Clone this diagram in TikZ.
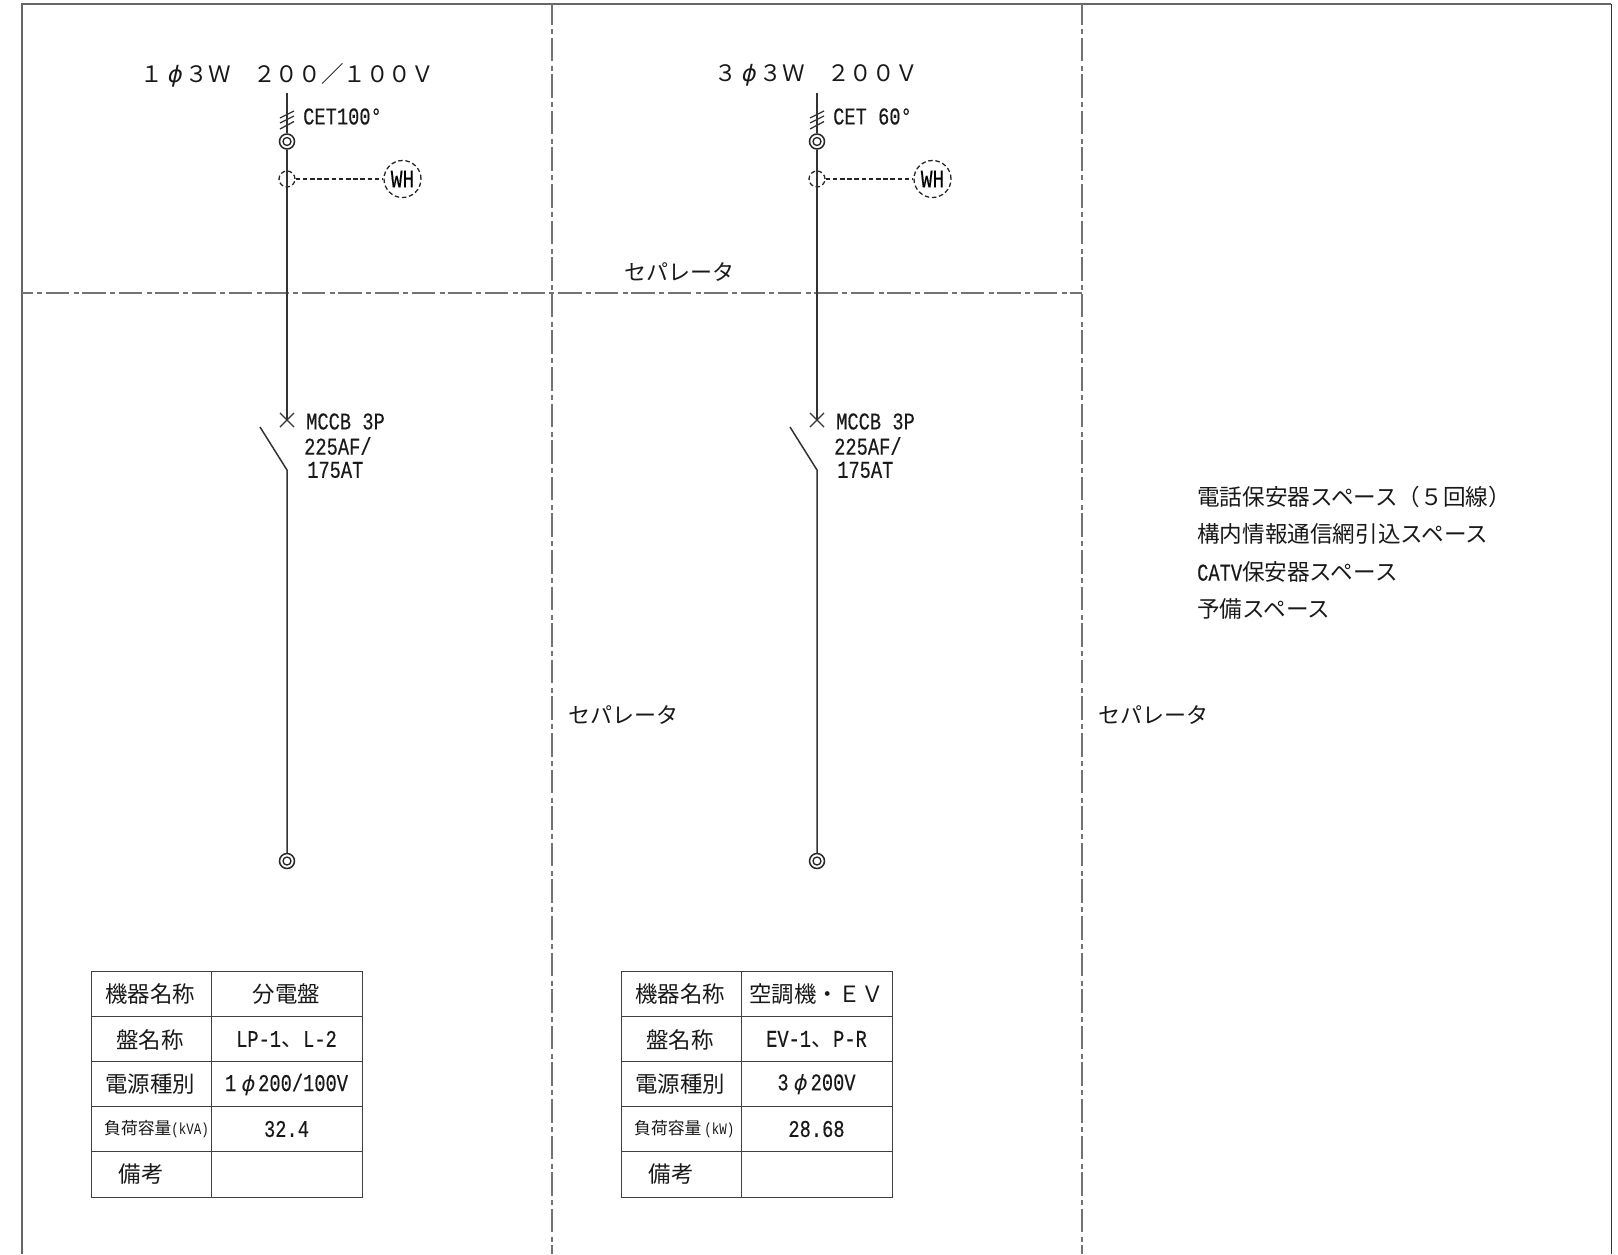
\documentclass[tikz,border=0pt]{standalone}
\usepackage{fontspec}
\setmainfont{Noto Sans CJK JP}
\newfontfamily\nar[FakeStretch=0.78,FakeBold=0.3]{Liberation Mono}
\newfontfamily\narr[FakeStretch=0.78]{Liberation Mono}
\newfontfamily\phf[FakeSlant=0.22]{DejaVu Sans}
\newcommand{\ph}{\makebox[1em][c]{\phf ϕ}}
\newcommand{\tph}{\makebox[22pt][c]{\fontsize{21}{21}\selectfont\phf ϕ}}
\newcommand{\tcm}{\makebox[22pt][c]{\fontsize{22}{22}\selectfont\rmfamily 、}}
\tikzset{
 ln/.style={line width=1.5pt,draw=black!80},
 sep/.style={line width=1.3pt,draw=black!55,dash pattern=on 23.5pt off 4.5pt on 5pt off 3.6pt},
 sepv/.style={sep,dash phase=3pt},
 seph/.style={sep,dash phase=13pt},
 dsh/.style={line width=1.3pt,draw=black!85,dash pattern=on 4.5pt off 2.7pt},
 txt/.style={inner sep=0pt,anchor=west,font=\fontsize{22}{22}\selectfont,text=black!90},
 rtx/.style={txt,font=\fontsize{22.6}{22.6}\selectfont},
 nr/.style={inner sep=0pt,anchor=west,font=\fontsize{24}{24}\selectfont\nar,text=black!90},
 tc/.style={inner sep=0pt,anchor=center,font=\fontsize{22.4}{22.4}\selectfont,text=black!90},
 tn/.style={inner sep=0pt,anchor=center,font=\fontsize{24}{24}\selectfont\nar,text=black!90},
 ringo/.style={circle,draw=black!85,line width=1.5pt,minimum size=15pt,inner sep=0pt,fill=white},
 ringi/.style={circle,draw=black!85,line width=1.3pt,minimum size=8pt,inner sep=0pt,fill=white},
 dcirc/.style={circle,dsh,minimum size=16pt,inner sep=0pt,fill=white},
 wh/.style={circle,dsh,minimum size=37pt,inner sep=0pt,fill=white,font=\fontsize{25}{25}\selectfont\nar},
 ttlst/.style={inner sep=0pt,anchor=west,font=\fontsize{22.6}{22.6}\selectfont,text=black!90},
 tbl/.style={line width=1pt,draw=black!75},
}
\begin{document}
\begin{tikzpicture}[x=1pt,y=-1pt]
\useasboundingbox (0,0) rectangle (1618,1254);
% frame
\coordinate (tl) at (22,1254); \coordinate (tl2) at (22,4); \coordinate (tr) at (1611,4); \coordinate (tr2) at (1611,1254);
\draw[line width=1.5pt,draw=black!60] (tl)--(tl2)--(tr);
\draw[line width=1pt,draw=black!80] (tr)--(tr2);
% separators
\coordinate (v1a) at (552,4); \coordinate (v1b) at (552,1254);
\coordinate (v2a) at (1082,4); \coordinate (v2b) at (1082,1254);
\coordinate (ha) at (22,293); \coordinate (hb) at (1082,293);
\draw[sepv] (v1a)--(v1b);
\draw[sepv] (v2a)--(v2b);
\draw[seph] (ha)--(hb);
\node[txt] (s1) at (624,272) {セパレータ};
\node[txt] (s2) at (568,715) {セパレータ};
\node[txt] (s3) at (1098,715) {セパレータ};
% circuits
\foreach \cx/\nm/\cet/\ttl/\tx in {287/a/CET100°/{１\ph ３Ｗ　２００／１００Ｖ}/140, 817/b/{CET 60°}/{３\ph ３Ｗ　２００Ｖ}/714}{
 \node[ttlst] (ttl\nm) at (\tx,75) {\ttl};
 \coordinate (top\nm) at (\cx,93);
 \node[ringo] (r1\nm) at (\cx,141.5) {};
 \node[ringi] (r1i\nm) at (r1\nm) {};
 \node[dcirc] (d\nm) at (\cx,179) {};
 \node[wh] (wh\nm) at (\cx+115.5,179) {WH};
 \coordinate (xc\nm) at (\cx,420);
 \coordinate (sw\nm) at (\cx,470);
 \coordinate (swt\nm) at (\cx-27,427);
 \node[ringo] (r2\nm) at (\cx,861) {};
 \node[ringi] (r2i\nm) at (r2\nm) {};
 \draw[ln] (top\nm)--(r1\nm.north);
 \draw[ln] (r1\nm.south)--(d\nm.north);
 \draw[ln] (d\nm.north)--(d\nm.south);
 \draw[ln] (d\nm.south)--(xc\nm);
 \draw[ln] (swt\nm)--(sw\nm)--(r2\nm.north);
 \draw[dsh] (d\nm.east)--(wh\nm.west);
 \draw[ln,line width=1.3pt] (\cx-7,413)--(\cx+7,427) (\cx-7,427)--(\cx+7,413);
 \draw[ln,line width=1.3pt] (\cx-7,118)--(\cx+7,111) (\cx-7,123)--(\cx+7,116) (\cx-7,129)--(\cx+7,121.5);
 \node[nr] (cet\nm) at (\cx+16,116.5) {\cet};
 \node[nr] (m1\nm) at (\cx+19,421.5) {MCCB 3P};
 \node[nr] (m2\nm) at (\cx+17,446) {225AF/};
 \node[nr] (m3\nm) at (\cx+20,470) {175AT};
}
% right text
\node[rtx] (t1) at (1197,497) {電話保安器スペース（５回線）};
\node[rtx] (t2) at (1197,534) {構内情報通信網引込スペース};
\node[rtx] (t3) at (1197,572) {{\fontsize{24}{24}\selectfont\nar CATV}保安器スペース};
\node[rtx] (t4) at (1197,609) {予備スペース};
% tables
\foreach \ox/\nm/\aa/\bb/\cc/\dd/\ee in {
 91.5/p/分電盤/{LP-1\tcm L-2}/{1\tph 200/100V}/{(kVA)}/{32.4},
 621.5/q/空調機・ＥＶ/{EV-1\tcm P-R}/{3\tph 200V}/{\hspace{3pt}(kW)}/{28.68}}{
 \coordinate (tb\nm) at (\ox,971.5);
 \coordinate (te\nm) at (\ox+271,1197);
 \draw[tbl] (tb\nm) rectangle (te\nm);
 \draw[tbl] (\ox,1016)--(\ox+271,1016) (\ox,1061.3)--(\ox+271,1061.3) (\ox,1106.6)--(\ox+271,1106.6) (\ox,1151.8)--(\ox+271,1151.8) (\ox+119.5,971.5)--(\ox+119.5,1197);
 \node[tc] (c1\nm) at (\ox+58.5,994) {機器名称};
 \node[tc] (c2\nm) at (\ox+58.5,1039.5) {盤名称};
 \node[tc] (c3\nm) at (\ox+58.5,1084.5) {電源種別};
 \node[inner sep=0pt,anchor=west,font=\fontsize{16.8}{16.8}\selectfont,text=black!90] (c4\nm) at (\ox+12.5,1129) {負荷容量{\fontsize{16}{16}\selectfont\narr\dd}};
 \node[tc] (c5\nm) at (\ox+49.5,1174) {備考};
 \node[tc] (d1\nm) at (\ox+195,994) {\aa};
 \node[tn] (d2\nm) at (\ox+195,1039.5) {\bb};
 \node[tn] (d3\nm) at (\ox+195,1084.5) {\cc};
 \node[tn] (d4\nm) at (\ox+195,1129) {\ee};
}
\end{tikzpicture}
\end{document}
